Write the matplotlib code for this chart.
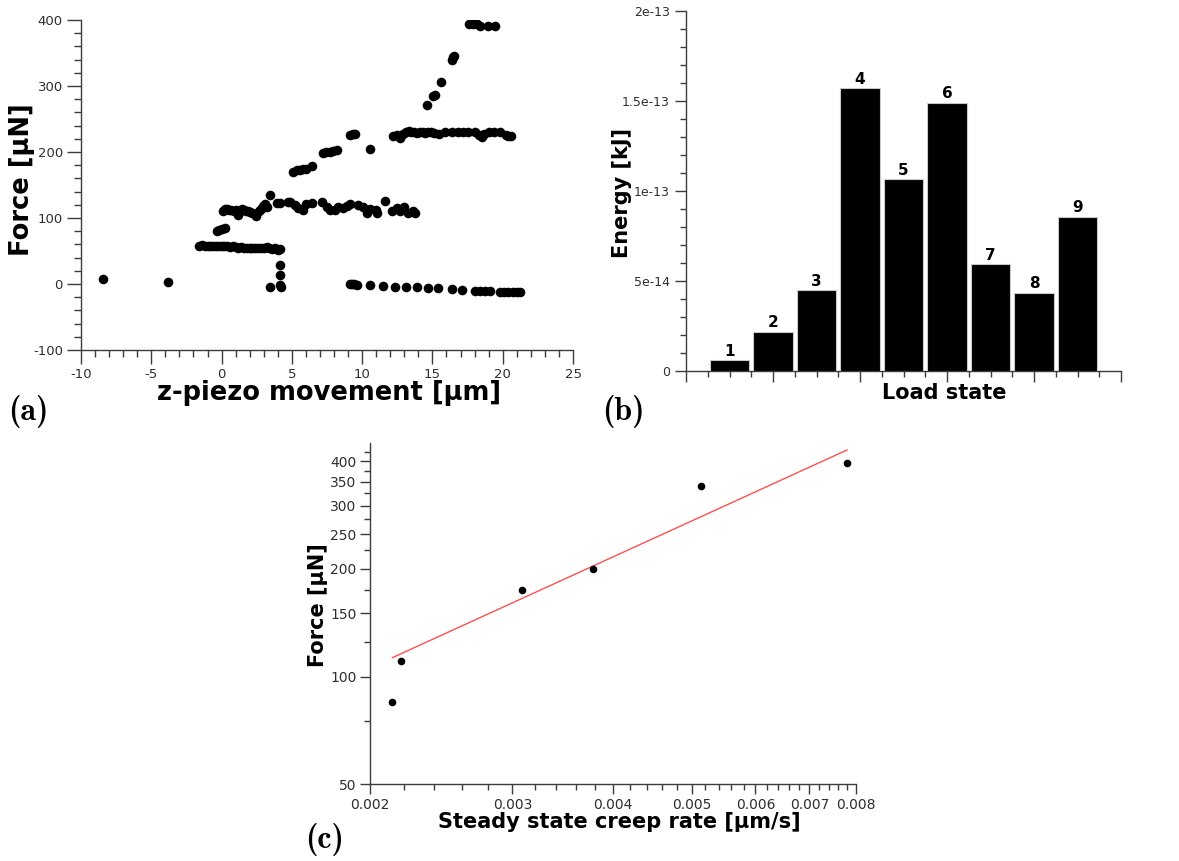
import numpy as np
import matplotlib
matplotlib.use("Agg")
import matplotlib.pyplot as plt
from matplotlib.ticker import FixedLocator, NullFormatter, MultipleLocator

plt.rcParams["axes.unicode_minus"] = False

# ---------------- (a) force vs z-piezo movement ----------------
piezo_x = [
    -8.4, -3.8,
    # first hold (~57 uN)
    -1.6, -1.4, -1.2, -1.0, -0.8, -0.6, -0.4, -0.2, 0.0, 0.2, 0.4, 0.6, 0.8, 1.0,
    1.2, 1.4, 1.6, 1.8, 2.0, 2.2, 2.4, 2.6, 2.8, 3.0, 3.2, 3.4, 3.6, 3.8, 4.0, 4.15,
    # ramp
    -0.3, -0.15, 0.05, 0.25,
    # second hold (~110 uN)
    0.1, 0.25, 0.4, 0.55, 0.7, 0.85, 1.0, 1.15, 1.3, 1.45, 1.6, 1.75, 1.9, 2.05,
    2.2, 2.45, 2.65, 2.8, 2.95, 3.1, 3.25, 3.45, 3.95,
    # unloading drop
    4.15, 4.15, 4.15, 4.2, 3.45,
    # hold ~120 uN
    4.15, 4.74, 4.86, 5.21, 5.45, 5.81, 6.04, 6.40, 7.11, 7.47, 7.70, 8.06, 8.30,
    8.65, 8.89, 9.17, 9.72, 10.08, 10.36, 10.55, 11.02, 11.07, 11.62, 12.09, 12.45,
    12.68, 12.97, 13.28, 13.59, 13.75,
    # loading steps
    5.10, 5.35, 5.57, 5.80, 6.04, 6.40, 7.23, 7.45, 7.70, 7.95, 8.18, 9.14, 9.32, 9.50,
    10.55,
    # hold ~230 uN
    12.2, 12.5, 12.7, 12.9, 13.1, 13.3, 13.5, 13.7, 13.9, 14.1, 14.3, 14.5, 14.7,
    14.9, 15.1, 15.5, 15.9, 16.4, 16.8, 17.2, 17.5, 18.0, 18.3, 18.5, 18.7, 19.0,
    19.4, 19.8, 20.2, 20.4, 20.6,
    # final ramp and top hold
    14.58, 15.06, 15.17, 15.6, 16.36, 16.48, 16.55, 17.62, 17.9, 18.14, 18.38, 18.97,
    19.45,
    # zero-force line
    9.15, 9.25, 9.4, 9.6, 10.55, 11.5, 12.33, 13.1, 13.9, 14.65, 15.4, 16.36, 17.07,
    18.0, 18.4, 18.75, 19.1, 19.8, 20.1, 20.4, 20.7, 21.0, 21.2,
]
piezo_force = [
    8, 3,
    58, 59, 58, 58, 58, 57, 57, 58, 57, 57, 57, 56, 57, 56,
    55, 56, 55, 55, 54, 54, 55, 54, 54, 55, 56, 54, 53, 54, 52, 53,
    80, 82, 84, 85,
    111, 114, 113, 112, 112, 110, 112, 104, 111, 113, 112, 110, 111, 109,
    108, 103, 110, 113, 118, 121, 117, 135, 122,
    29, 14, -1, -4, -4,
    122, 124, 124, 119, 115, 112, 121, 122, 124, 117, 112, 112, 117,
    115, 118, 121, 120, 116, 107, 113, 112, 107, 126, 110, 115,
    111, 116, 107, 111, 107,
    170, 172, 173, 174, 175, 179, 198, 200, 200, 202, 203, 226, 227, 227,
    205,
    224, 226, 221, 228, 231, 232, 231, 230, 229, 230, 231, 229, 230,
    231, 229, 228, 231, 230, 230, 230, 230, 230, 226, 222, 227, 230,
    231, 230, 226, 224, 224,
    271, 285, 287, 306, 340, 344, 346, 394, 394, 394, 391, 391,
    391,
    0, 0, 0, -1, -2, -3, -4, -4, -5, -6, -6, -8, -9,
    -10, -10, -11, -11, -12, -12, -12, -12, -12, -12,
]

# ---------------- (b) energy per load state ----------------
load_states = [1, 2, 3, 4, 5, 6, 7, 8, 9]
energy_kj = [5.8e-15, 2.17e-14, 4.49e-14, 1.572e-13, 1.064e-13, 1.490e-13,
             5.91e-14, 4.34e-14, 8.56e-14]
energy_ticks = [0, 5e-14, 1e-13, 1.5e-13, 2e-13]
energy_tick_labels = ["0", "5e-14", "1e-13", "1.5e-13", "2e-13"]

# ---------------- (c) force vs steady state creep rate ----------------
creep_rate = [0.00213, 0.00218, 0.00308, 0.00378, 0.00514, 0.00779]
creep_force = [84.7, 110.7, 174.4, 199.7, 341.0, 395.6]
fit_rate = [0.00213, 0.00779]
fit_force = [112.9, 429.3]
force_ticks = [50, 100, 150, 200, 250, 300, 350, 400]
force_minor_ticks = [75, 125, 175, 225, 275, 325, 375, 425]
rate_ticks = [0.002, 0.003, 0.004, 0.005, 0.006, 0.007, 0.008]
rate_tick_labels = ["0.002", "0.003", "0.004", "0.005", "0.006", "0.007", "0.008"]

SPINE = "#3c3c3c"
TICKTXT = "#2e2e2e"

W, H = 1179, 861
fig = plt.figure(figsize=(W / 100, H / 100), dpi=100)


def px_axes(left, top, right, bottom):
    return fig.add_axes([left / W, 1 - bottom / H, (right - left) / W, (bottom - top) / H])


def style(ax, size, major=10, minor=5, pad=3.5):
    for s in ("top", "right"):
        ax.spines[s].set_visible(False)
    for s in ("left", "bottom"):
        ax.spines[s].set_color(SPINE)
        ax.spines[s].set_linewidth(1.0)
    ax.tick_params(which="major", direction="out", length=major, width=1.0,
                   color=SPINE, labelsize=size, labelcolor=TICKTXT, pad=pad)
    ax.tick_params(which="minor", direction="out", length=minor, width=1.0, color=SPINE)


# (a)
axa = px_axes(81, 20, 573, 350)
axa.scatter(piezo_x, piezo_force, s=48, color="black", linewidths=0, zorder=3)
axa.set_xlim(-10, 25)
axa.set_ylim(-100, 400)
axa.xaxis.set_major_locator(MultipleLocator(5))
axa.xaxis.set_minor_locator(MultipleLocator(1))
axa.yaxis.set_major_locator(MultipleLocator(100))
axa.yaxis.set_minor_locator(MultipleLocator(20))
style(axa, 9.5, pad=3)
axa.set_xlabel("z-piezo movement [µm]", fontsize=18.5, fontweight="bold", va="center")
axa.xaxis.set_label_coords(0.505, -0.13)
axa.set_ylabel("Force [µN]", fontsize=18.5, fontweight="bold", va="center")
axa.yaxis.set_label_coords(-0.12, 0.515)

# (b)
axb = px_axes(686, 11, 1121, 370.7)
axb.bar(load_states, energy_kj, width=0.91, color="black",
        edgecolor="#c8c8c8", linewidth=0.8, zorder=3)
for st, val in zip(load_states, energy_kj):
    axb.annotate(str(st), (st, val), xytext=(0, 1), textcoords="offset points",
                 ha="center", va="bottom", fontsize=11, fontweight="bold")
axb.set_xlim(0, 10)
axb.set_ylim(0, 2e-13)
axb.xaxis.set_major_locator(MultipleLocator(2))
axb.xaxis.set_minor_locator(MultipleLocator(0.5))
axb.xaxis.set_major_formatter(NullFormatter())
axb.yaxis.set_major_locator(FixedLocator(energy_ticks))
axb.set_yticklabels(energy_tick_labels)
axb.yaxis.set_minor_locator(MultipleLocator(1e-14))
style(axb, 9, major=8, minor=4)
axb.set_xlabel("Load state", fontsize=15, fontweight="bold", va="center")
axb.xaxis.set_label_coords(0.593, -0.062)
axb.set_ylabel("Energy [kJ]", fontsize=15, fontweight="bold", va="center")
axb.yaxis.set_label_coords(-0.147, 0.494)

# (c)
axc = px_axes(370.3, 442.7, 856.3, 784.3)
axc.set_xscale("log")
axc.set_yscale("log")
axc.plot(fit_rate, fit_force, color="#ff5050", linewidth=1.0, zorder=2)
axc.scatter(creep_rate, creep_force, s=30, color="black", linewidths=0, zorder=3)
axc.set_xlim(0.002, 0.008)
axc.set_ylim(50, 450)
axc.yaxis.set_major_locator(FixedLocator(force_ticks))
axc.yaxis.set_minor_locator(FixedLocator(force_minor_ticks))
axc.set_yticklabels([str(v) for v in force_ticks])
axc.yaxis.set_minor_formatter(NullFormatter())
minor_rates = [r for r in np.arange(0.0020, 0.00801, 0.0002)
               if min(abs(r - t) for t in rate_ticks) > 1e-7]
axc.xaxis.set_major_locator(FixedLocator(rate_ticks))
axc.xaxis.set_minor_locator(FixedLocator(minor_rates))
axc.set_xticklabels(rate_tick_labels)
axc.xaxis.set_minor_formatter(NullFormatter())
style(axc, 10, major=7, minor=4, pad=3)
axc.set_xlabel("Steady state creep rate [µm/s]", fontsize=15, fontweight="bold", va="center")
axc.xaxis.set_label_coords(0.512, -0.110)
axc.set_ylabel("Force [µN]", fontsize=15, fontweight="bold", va="center")
axc.yaxis.set_label_coords(-0.108, 0.525)

# panel letters
for label, (lx, ly) in {"(a)": (8, 411), "(b)": (602, 411), "(c)": (305, 840)}.items():
    fig.text(lx / W, 1 - ly / H, label, fontsize=23, family="cmb10",
             ha="left", va="center")

fig.savefig("out.png", dpi=100)
